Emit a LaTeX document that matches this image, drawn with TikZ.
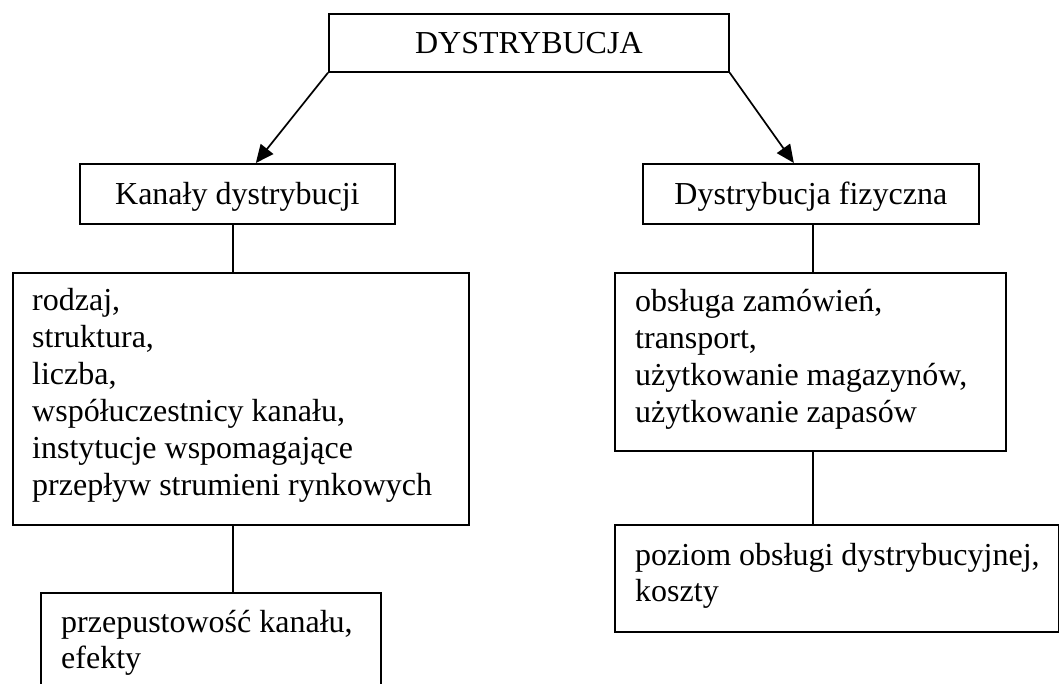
\documentclass[tikz,border=0pt]{standalone}
\usepackage{fontspec}
\setmainfont{Liberation Serif}
\usetikzlibrary{arrows.meta}
\tikzset{
  bx/.style={draw=black, line width=1.7pt, rectangle, inner sep=0pt, anchor=north west,
             font=\fontsize{32}{36.8}\selectfont},
  ttl/.style={bx, text height=21pt, text depth=0pt},
  txt/.style={anchor=base west, inner sep=0pt, font=\fontsize{32}{36.8}\selectfont},
  lnk/.style={draw=black, line width=1.7pt},
  arr/.style={lnk, -{Triangle[length=18pt,width=16pt]}}
}
\begin{document}
\begin{tikzpicture}[x={(1pt,0)}, y={(0,-1pt)}]
\useasboundingbox (0,0) rectangle (1059,684);
\clip (0,0) rectangle (1059,684);
\fill[white] (0,0) rectangle (1059,684);

\node[ttl, minimum width=400pt, minimum height=58pt] (top) at (328,13) {DYSTRYBUCJA};
\node[ttl, minimum width=315pt, minimum height=60pt] (kan) at (79,163) {Kanały dystrybucji};
\node[ttl, minimum width=336pt, minimum height=60pt] (dys) at (642,163) {Dystrybucja fizyczna};

\node[bx, minimum width=456pt, minimum height=252pt] (lb) at (12,272) {};
\node[txt] (lbt) at (32,311) {\begin{tabular}[t]{@{}l@{}}rodzaj,\\ struktura,\\ liczba,\\ współuczestnicy kanału,\\ instytucje wspomagające\\ przepływ strumieni rynkowych\end{tabular}};

\node[bx, minimum width=391pt, minimum height=178pt] (rb) at (614,272) {};
\node[txt] (rbt) at (635,312) {\begin{tabular}[t]{@{}l@{}}obsługa zamówień,\\ transport,\\ użytkowanie magazynów,\\ użytkowanie zapasów\end{tabular}};

\node[bx, minimum width=444pt, minimum height=107pt] (pz) at (614,524) {};
\node[txt] (pzt) at (635,565) {\begin{tabular}[t]{@{}l@{}}poziom obsługi dystrybucyjnej,\\ koszty\end{tabular}};

\node[bx, minimum width=340pt, minimum height=130pt] (bl) at (40,592) {};
\node[txt] (blt) at (61,632) {\begin{tabular}[t]{@{}l@{}}przepustowość kanału,\\ efekty\end{tabular}};

\draw[arr] (top.south west) -- ([xshift=18.5pt]kan.north);
\draw[arr] (top.south east) -- ([xshift=-17pt]dys.north);

\draw[lnk] ([xshift=-4.5pt]kan.south) -- ([xshift=-4.5pt]kan.south |- lb.north);
\draw[lnk] ([xshift=-8pt]lb.south) -- ([xshift=-8pt]lb.south |- bl.north);
\draw[lnk] ([xshift=2pt]dys.south) -- ([xshift=2pt]dys.south |- rb.north);
\draw[lnk] ([xshift=2.5pt]rb.south) -- ([xshift=2.5pt]rb.south |- pz.north);
\end{tikzpicture}
\end{document}
